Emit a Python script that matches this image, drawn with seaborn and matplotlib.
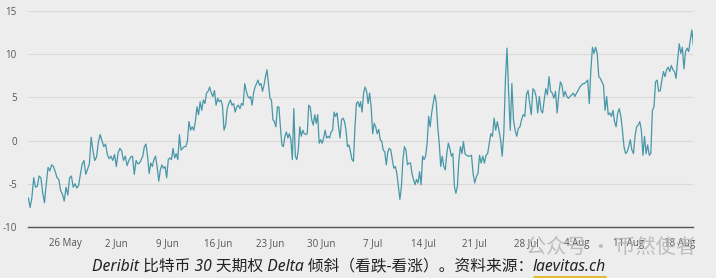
import numpy as np
import pandas as pd
import matplotlib
matplotlib.use("Agg")
import matplotlib.pyplot as plt
from matplotlib.lines import Line2D
import seaborn as sns

# ---- data: Deribit BTC 30-day delta skew (put - call) ----
seg_starts = ["2022-05-21 00:00", "2022-06-05 05:00", "2022-06-20 09:00",
              "2022-07-05 09:40", "2022-07-20 13:30", "2022-08-04 14:00"]
seg_ends = ["2022-06-04 23:20", "2022-06-20 05:30", "2022-07-05 06:00",
            "2022-07-20 07:00", "2022-08-04 08:30", "2022-08-19 21:20"]

skew_seg1 = [-6.6, -7.75, -6.6, -4.3, -5.4, -5.3, -4.1, -4.3, -6.0, -7.2,
             -5.0, -3.1, -3.5, -2.8, -3.0, -3.6, -4.3, -4.5, -5.8, -6.2,
             -7.0, -5.4, -6.3, -4.3, -4.1, -5.4, -5.0, -5.5, -5.2, -3.9,
             -2.7, -2.3, -3.9, -3.3, -2.7, 0.4, -1.2, -2.3, -1.9, -0.2,
             0.7, 0.0, -0.7, -0.4, -1.6, -2.1, -1.8, -2.3, -1.6, -3.0,
             -1.4, -0.9, -1.2, -2.3, -1.8, -2.9, -2.3, -1.9, -1.8, -3.9,
             -2.3, -2.7]
skew_seg2 = [-2.6, -2.2, -1.8, -0.7, -0.4, -1.8, -3.8, -2.6, -3.0, -2.2,
             -1.8, -3.0, -4.7, -3.4, -2.8, -3.2, -3.0, -4.3, -2.2, -2.0,
             -2.2, -0.9, -2.0, -1.5, -2.2, 0.7, -1.1, -0.9, -0.7, -0.7,
             -0.1, 2.2, 1.2, 1.6, 1.2, 2.2, 3.9, 3.0, 4.5, 3.5,
             4.7, 4.3, 5.5, 5.7, 6.2, 5.5, 5.1, 5.8, 4.1, 4.9,
             4.5, 4.7, 4.1, 1.2, 1.8, 3.7, 4.3, 4.7, 4.1, 4.3,
             3.3, 3.9, 4.1, 3.7, 4.3, 4.1, 6.6, 5.7, 5.1, 4.9]
skew_seg3 = [5.1, 4.1, 5.5, 6.2, 6.6, 7.0, 6.4, 6.6, 5.7, 6.4,
             7.4, 8.2, 6.6, 4.9, 4.7, 2.4, 2.2, 1.6, 3.9, 3.9,
             1.6, -0.5, -0.7, 0.5, 1.0, 0.3, 0.8, 0.1, -2.2, 3.7,
             -1.8, -2.2, -1.1, 1.6, 0.5, 1.2, 0.8, 0.7, 0.8, 4.1,
             3.9, 2.4, 1.8, 3.0, 2.0, 3.0, -0.3, 0.1, -0.3, 0.3,
             1.2, 0.3, 0.5, 0.3, 1.0, 1.2, 3.3, 2.8, 3.2, 1.6,
             0.3, 2.4, 2.6, 2.2, 1.2, -0.7, -0.5, -1.3, -2.2, -2.4,
             1.6, 4.3, 4.5, 3.9]
skew_seg4 = [4.5, 3.3, 5.5, 6.2, 5.7, 4.3, 5.5, 3.9, 0.8, 2.0,
             1.6, 0.8, 1.3, 0.1, -0.1, -1.1, -1.3, -2.8, -1.3, -0.9,
             -1.1, -2.2, -3.2, -3.0, -3.8, -5.3, -6.8, -5.3, -2.2, -0.7,
             -1.1, -2.8, -2.6, -2.6, -3.8, -4.5, -5.1, -4.5, -4.9, -3.6,
             -5.1, -1.8, -2.2, -1.8, -0.3, 2.8, 1.6, 3.2, 4.3, 5.3,
             4.5, 1.6, -0.3, -3.0, -1.8, -3.0, -3.4, -1.5, -0.3, -0.9,
             -1.8, -1.5, -5.3, -6.1, -5.3, -2.2, -0.7, -1.5, -0.1, -1.5,
             -1.7, -1.8, -1.8]
skew_seg5 = [-1.7, -3.8, -4.9, -4.2, -3.8, -1.7, -2.6, -1.8, -2.6, -1.7,
             -1.5, -0.3, 0.8, 0.5, 2.6, 1.2, 2.2, 1.2, 0.1, -1.8,
             0.8, 7.0, 10.7, 5.5, 1.2, 6.6, 2.4, 1.2, 0.5, 1.4,
             1.6, 2.4, 3.0, 2.8, 5.3, 5.8, 4.3, 3.0, 6.0, 5.8,
             5.1, 3.2, 5.1, 3.5, 3.2, 4.7, 6.0, 5.3, 7.4, 5.7,
             5.5, 4.9, 5.7, 3.2, 5.3, 6.8, 6.4, 5.1, 5.7, 5.1,
             4.9, 5.1, 5.3, 5.5, 5.1, 5.5, 5.8, 6.2]
skew_seg6 = [6.4, 6.6, 6.6, 6.8, 7.0, 4.3, 8.2, 10.8, 10.1, 10.8,
             10.1, 7.4, 7.2, 6.8, 6.4, 3.5, 5.1, 3.0, 3.2, 2.8,
             3.5, 2.2, 1.6, 3.2, 3.7, 2.8, 1.2, -0.7, -1.5, -1.3,
             -0.7, 0.1, -1.1, -1.5, 0.5, 1.6, 1.8, 2.2, 1.2, -1.7,
             0.5, -1.5, -0.5, -1.7, -1.5, 3.5, 3.9, 6.8, 7.0, 5.7,
             5.8, 7.0, 8.0, 7.4, 8.2, 8.5, 8.0, 8.7, 8.2, 8.0,
             7.2, 9.3, 11.2, 10.1, 10.8, 8.3, 10.3, 10.7, 10.3, 11.6,
             12.8, 11.0]

tick_dates = ["2022-05-26", "2022-06-02", "2022-06-09", "2022-06-16", "2022-06-23",
              "2022-06-30", "2022-07-07", "2022-07-14", "2022-07-21", "2022-07-28",
              "2022-08-04", "2022-08-11", "2022-08-18"]
tick_labels = ["26 May", "2 Jun", "9 Jun", "16 Jun", "23 Jun", "30 Jun", "7 Jul",
               "14 Jul", "21 Jul", "28 Jul", "4 Aug", "11 Aug", "18 Aug"]
y_ticks = [-10, -5, 0, 5, 10, 15]

caption_main = "Deribit 比特币 30 天期权 Delta 倾斜（看跌-看涨）。资料来源："
caption_link = "laevitas.ch"
watermark = "公众号 · 币然使者"

# ---- build table ----
segments = [skew_seg1, skew_seg2, skew_seg3, skew_seg4, skew_seg5, skew_seg6]
frames = []
for s, e, vals in zip(seg_starts, seg_ends, segments):
    frames.append(pd.DataFrame({
        "date": pd.date_range(s, e, periods=len(vals)),
        "skew": vals,
    }))
df = pd.concat(frames, ignore_index=True)

# ---- style ----
BG = "#ededed"
sns.set_theme(style="white")
plt.rcParams["font.family"] = ["Open Sans", "Noto Sans CJK SC", "DejaVu Sans"]

W, H = 716, 278
fig = plt.figure(figsize=(W / 100, H / 100), dpi=100, facecolor=BG)
ax = fig.add_axes([28 / W, 1 - 227 / H, (693 - 28) / W, (227 - 11) / H])
ax.set_facecolor(BG)

sns.lineplot(data=df, x="date", y="skew", ax=ax, color="#4897a8",
             linewidth=0.9, zorder=3)

ax.set_ylim(-10, 15)
ax.set_xlim(pd.Timestamp("2022-05-20 23:00"), pd.Timestamp("2022-08-19 20:00"))
ax.set_yticks(y_ticks)
ax.set_yticklabels([str(v) for v in y_ticks])
ax.set_xticks(pd.to_datetime(tick_dates))
ax.set_xticklabels(tick_labels)

ax.grid(axis="y", color="#d9d9d9", linewidth=0.8, zorder=0)
ax.grid(axis="x", visible=False)
for side in ["top", "right", "left"]:
    ax.spines[side].set_visible(False)
ax.spines["bottom"].set_color("#555555")
ax.spines["bottom"].set_linewidth(1.0)

ax.tick_params(axis="y", length=0, pad=8, labelsize=7, labelcolor="#555555")
ax.tick_params(axis="x", length=4, width=1, color="#555555", pad=4,
               labelsize=7, labelcolor="#555555")
ax.set_xlabel("")
ax.set_ylabel("")

# ---- caption with underlined source ----
cap_font = dict(family=["Noto Sans", "Noto Sans CJK SC", "DejaVu Sans"],
                style="italic", fontsize=11.3, color="#222222")
cap_y = 1 - 267 / H
t1 = fig.text(0, cap_y, caption_main, ha="left", va="center", **cap_font)
t2 = fig.text(0, cap_y, caption_link, ha="left", va="center", **cap_font)
fig.canvas.draw()
r = fig.canvas.get_renderer()
w1 = t1.get_window_extent(r).width
w2 = t2.get_window_extent(r).width
x0 = (349 - (w1 + w2) / 2)
t1.set_x(x0 / W)
t2.set_x((x0 + w1) / W)
fig.add_artist(Line2D([(x0 + w1 + 1) / W, (x0 + w1 + w2) / W],
                      [1 - 276.5 / H, 1 - 276.5 / H],
                      transform=fig.transFigure, color="#e3b520", linewidth=1.3))

# ---- faint watermark (as in the reference) ----
fig.text(611 / W, 1 - 247 / H, watermark, ha="center", va="center",
         fontsize=14.5, color="#b4b4b4", alpha=0.85,
         family=["Noto Sans CJK SC", "DejaVu Sans"], zorder=10)

fig.savefig("out.png", dpi=100, facecolor=BG)
